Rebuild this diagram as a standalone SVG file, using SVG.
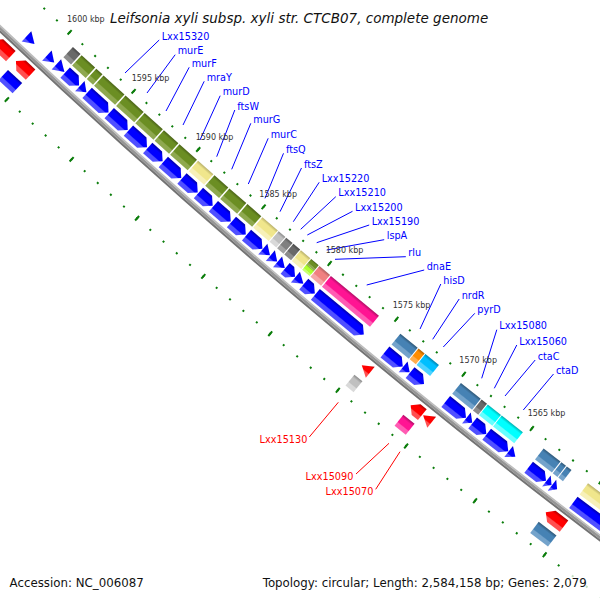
<svg xmlns="http://www.w3.org/2000/svg" width="600" height="600" viewBox="0 0 600 600">
<style>
text{font-family:"DejaVu Sans","Liberation Sans",sans-serif}
.lb{font-size:9.7px;fill:#0000ff}
.lr{font-size:9.7px;fill:#ff0000}
.tk{font-size:8px;fill:#333}
.ll{stroke:#0000ff;stroke-width:1;fill:none}
.lrl{stroke:#ff0000;stroke-width:1;fill:none}
.ab{fill:url(#gBlue)}
.ar{fill:url(#gRed)}
</style>
<defs>
<linearGradient id="gBlue"><stop offset="0" stop-color="#0000a8"/><stop offset=".22" stop-color="#0000ff"/><stop offset=".62" stop-color="#0000ff"/><stop offset=".7" stop-color="#5050ff"/><stop offset="1" stop-color="#5050ff"/></linearGradient>
<linearGradient id="gRed"><stop offset="0" stop-color="#b00000"/><stop offset=".22" stop-color="#ff0000"/><stop offset=".62" stop-color="#ff0000"/><stop offset=".7" stop-color="#ff5050"/><stop offset="1" stop-color="#ff5050"/></linearGradient>
<linearGradient id="gOlive"><stop offset="0" stop-color="#4b6418"/><stop offset=".22" stop-color="#6b8e23"/><stop offset=".62" stop-color="#6b8e23"/><stop offset=".7" stop-color="#8ea84f"/><stop offset="1" stop-color="#8ea84f"/></linearGradient>
<linearGradient id="gKhaki"><stop offset="0" stop-color="#b8b06a"/><stop offset=".22" stop-color="#f0e68c"/><stop offset=".62" stop-color="#f0e68c"/><stop offset=".7" stop-color="#f7f0b8"/><stop offset="1" stop-color="#f7f0b8"/></linearGradient>
<linearGradient id="gSilver"><stop offset="0" stop-color="#8c8c8c"/><stop offset=".22" stop-color="#c0c0c0"/><stop offset=".62" stop-color="#c0c0c0"/><stop offset=".7" stop-color="#d9d9d9"/><stop offset="1" stop-color="#d9d9d9"/></linearGradient>
<linearGradient id="gGray"><stop offset="0" stop-color="#595959"/><stop offset=".22" stop-color="#808080"/><stop offset=".62" stop-color="#808080"/><stop offset=".7" stop-color="#a3a3a3"/><stop offset="1" stop-color="#a3a3a3"/></linearGradient>
<linearGradient id="gDim"><stop offset="0" stop-color="#484848"/><stop offset=".22" stop-color="#696969"/><stop offset=".62" stop-color="#696969"/><stop offset=".7" stop-color="#8c8c8c"/><stop offset="1" stop-color="#8c8c8c"/></linearGradient>
<linearGradient id="gChart"><stop offset="0" stop-color="#79b320"/><stop offset=".22" stop-color="#adff2f"/><stop offset=".62" stop-color="#adff2f"/><stop offset=".7" stop-color="#c9ff70"/><stop offset="1" stop-color="#c9ff70"/></linearGradient>
<linearGradient id="gCoral"><stop offset="0" stop-color="#b05e5e"/><stop offset=".22" stop-color="#f08080"/><stop offset=".62" stop-color="#f08080"/><stop offset=".7" stop-color="#f5a6a6"/><stop offset="1" stop-color="#f5a6a6"/></linearGradient>
<linearGradient id="gPink"><stop offset="0" stop-color="#b30e67"/><stop offset=".22" stop-color="#ff1493"/><stop offset=".62" stop-color="#ff1493"/><stop offset=".7" stop-color="#ff5cb3"/><stop offset="1" stop-color="#ff5cb3"/></linearGradient>
<linearGradient id="gSteel"><stop offset="0" stop-color="#2f5878"/><stop offset=".22" stop-color="#4682b4"/><stop offset=".62" stop-color="#4682b4"/><stop offset=".7" stop-color="#74a3cb"/><stop offset="1" stop-color="#74a3cb"/></linearGradient>
<linearGradient id="gOrange"><stop offset="0" stop-color="#b36200"/><stop offset=".22" stop-color="#ff8c00"/><stop offset=".62" stop-color="#ff8c00"/><stop offset=".7" stop-color="#ffad4d"/><stop offset="1" stop-color="#ffad4d"/></linearGradient>
<linearGradient id="gSky"><stop offset="0" stop-color="#0086b3"/><stop offset=".22" stop-color="#00bfff"/><stop offset=".62" stop-color="#00bfff"/><stop offset=".7" stop-color="#4dd2ff"/><stop offset="1" stop-color="#4dd2ff"/></linearGradient>
<linearGradient id="gCyan"><stop offset="0" stop-color="#00b0b0"/><stop offset=".22" stop-color="#00ffff"/><stop offset=".62" stop-color="#00ffff"/><stop offset=".7" stop-color="#66ffff"/><stop offset="1" stop-color="#66ffff"/></linearGradient>
</defs>
<rect width="600" height="600" fill="#fff"/>
<g id="map" transform="translate(4952 -5198) rotate(130.25)">
  <g id="backbone" fill="none">
    <circle r="7197.75" stroke="#bdbdbd" stroke-width="1.5"/>
    <circle r="7199.75" stroke="#959595" stroke-width="2.5"/>
    <circle r="7202" stroke="#737373" stroke-width="2"/>
  </g>
  <g id="ticks" fill="none" stroke="#0b7d0b">
    <g transform="rotate(4.17233)">
      <path d="M7155 0A7155 7155 0 0 0 7078.996 -1040.116" stroke-width="2" stroke-dasharray="2 15.397" stroke-dashoffset="1"/>
      <path d="M7155 0A7155 7155 0 0 0 7078.996 -1040.116" stroke-width="6" stroke-dasharray="2 84.985" stroke-dashoffset="1"/>
      <path d="M7247 0A7247 7247 0 0 0 7170.019 -1053.489" stroke-width="2" stroke-dasharray="2 15.6207" stroke-dashoffset="1"/>
      <path d="M7247 0A7247 7247 0 0 0 7170.019 -1053.489" stroke-width="6" stroke-dasharray="2 86.1035" stroke-dashoffset="1"/>
    </g>
  </g>
  <g id="features">
    <g id="gA" transform="rotate(2.9205)"><polygon class="ab" points="7187.5,0 7194.5,11 7180.5,11"/></g>
    <g id="gB" transform="rotate(2.7056)"><polygon class="ab" points="7187.5,0 7194.5,10 7180.5,10"/></g>
    <g id="gC" transform="rotate(2.5942)"><polygon class="ab" points="7187.5,0 7194.5,11 7180.5,11"/><rect fill="url(#gDim)" x="7163.5" y="0.3" width="14" height="10.4"/></g>
    <g id="gD" transform="rotate(2.4351)"><polygon class="ab" points="7187.5,0 7194.5,7 7194.5,19 7180.5,19 7180.5,7"/><rect fill="url(#gOlive)" x="7163.5" y="0.3" width="14" height="18.4"/></g>
    <g id="gE" transform="rotate(2.3555)"><polygon class="ab" points="7187.5,0 7194.5,9 7180.5,9"/><rect fill="url(#gOlive)" x="7163.5" y="0.3" width="14" height="8.4"/></g>
    <g id="Lxx15320" transform="rotate(2.1167)"><polygon class="ab" points="7187.5,0 7194.5,7 7194.5,29 7180.5,29 7180.5,7"/><rect fill="url(#gOlive)" x="7163.5" y="0.3" width="14" height="28.4"/></g>
    <g id="murE" transform="rotate(1.9098)"><polygon class="ab" points="7187.5,0 7194.5,7 7194.5,25 7180.5,25 7180.5,7"/><rect fill="url(#gOlive)" x="7163.5" y="0.3" width="14" height="24.4"/></g>
    <g id="murF" transform="rotate(1.7029)"><polygon class="ab" points="7187.5,0 7194.5,7 7194.5,25 7180.5,25 7180.5,7"/><rect fill="url(#gOlive)" x="7163.5" y="0.3" width="14" height="24.4"/></g>
    <g id="mraY" transform="rotate(1.5358)"><polygon class="ab" points="7187.5,0 7194.5,7 7194.5,20 7180.5,20 7180.5,7"/><rect fill="url(#gOlive)" x="7163.5" y="0.3" width="14" height="19.4"/></g>
    <g id="murD" transform="rotate(1.3369)"><polygon class="ab" points="7187.5,0 7194.5,7 7194.5,24 7180.5,24 7180.5,7"/><rect fill="url(#gOlive)" x="7163.5" y="0.3" width="14" height="23.4"/></g>
    <g id="ftsW" transform="rotate(1.1618)"><polygon class="ab" points="7187.5,0 7194.5,7 7194.5,21 7180.5,21 7180.5,7"/><rect fill="url(#gKhaki)" x="7163.5" y="0.3" width="14" height="20.4"/></g>
    <g id="murG" transform="rotate(1.0027)"><polygon class="ab" points="7187.5,0 7194.5,7 7194.5,19 7180.5,19 7180.5,7"/><rect fill="url(#gOlive)" x="7163.5" y="0.3" width="14" height="18.4"/></g>
    <g id="murC" transform="rotate(0.8117)"><polygon class="ab" points="7187.5,0 7194.5,7 7194.5,23 7180.5,23 7180.5,7"/><rect fill="url(#gOlive)" x="7163.5" y="0.3" width="14" height="22.4"/></g>
    <g id="ftsQ" transform="rotate(0.6525)"><polygon class="ab" points="7187.5,0 7194.5,7 7194.5,19 7180.5,19 7180.5,7"/><rect fill="url(#gOlive)" x="7163.5" y="0.3" width="14" height="18.4"/></g>
    <g id="ftsZ" transform="rotate(0.4775)"><polygon class="ab" points="7187.5,0 7194.5,7 7194.5,21 7180.5,21 7180.5,7"/><rect fill="url(#gKhaki)" x="7163.5" y="0.3" width="14" height="20.4"/></g>
    <g id="Lxx15220" transform="rotate(0.3979)"><polygon class="ab" points="7187.5,0 7194.5,9.5 7180.5,9.5"/><rect fill="url(#gSilver)" x="7163.5" y="0.3" width="14" height="8.9"/></g>
    <g id="Lxx15210" transform="rotate(0.3223)"><polygon class="ab" points="7187.5,0 7194.5,9 7180.5,9"/><rect fill="url(#gGray)" x="7163.5" y="0.3" width="14" height="8.4"/></g>
    <g id="Lxx15200" transform="rotate(0.2427)"><polygon class="ab" points="7187.5,0 7194.5,9.5 7180.5,9.5"/><rect fill="url(#gDim)" x="7163.5" y="0.3" width="14" height="8.9"/></g>
    <g id="Lxx15190" transform="rotate(0.1353)"><polygon class="ab" points="7187.5,0 7194.5,7 7194.5,13 7180.5,13 7180.5,7"/><rect fill="url(#gKhaki)" x="7163.5" y="0.3" width="14" height="12.4"/></g>
    <g id="lspA" transform="rotate(0.0477)"><polygon class="ab" points="7187.5,0 7194.5,10.5 7180.5,10.5"/><rect fill="url(#gOlive)" x="7163.5" y="0.3" width="7" height="9.9"/><rect fill="url(#gChart)" x="7170.5" y="0.3" width="7" height="9.9"/></g>
    <g id="rlu" transform="rotate(-0.0716)"><polygon class="ab" points="7187.5,0 7194.5,7 7194.5,14.5 7180.5,14.5 7180.5,7"/><rect fill="url(#gCoral)" x="7163.5" y="0.3" width="14" height="13.9"/></g>
    <g id="dnaE" transform="rotate(-0.5809)"><polygon class="ab" points="7187.5,0 7194.5,7 7194.5,63 7180.5,63 7180.5,7"/><rect fill="url(#gPink)" x="7163.5" y="0.3" width="14" height="62.4"/></g>
    <g id="hisD" transform="rotate(-0.9828)"><polygon class="ab" points="7187.5,0 7194.5,7 7194.5,23 7180.5,23 7180.5,7"/><rect fill="url(#gSteel)" x="7163.5" y="0.3" width="14" height="22.4"/></g>
    <g id="nrdR" transform="rotate(-1.0544)"><polygon class="ab" points="7187.5,0 7194.5,8.5 7180.5,8.5"/><rect fill="url(#gOrange)" x="7163.5" y="0.3" width="14" height="7.9"/></g>
    <g id="pyrD" transform="rotate(-1.2016)"><polygon class="ab" points="7187.5,0 7194.5,7 7194.5,18 7180.5,18 7180.5,7"/><rect fill="url(#gSky)" x="7163.5" y="0.3" width="14" height="17.4"/></g>
    <g id="Lxx15080" transform="rotate(-1.6313)"><polygon class="ab" points="7187.5,0 7194.5,7 7194.5,26 7180.5,26 7180.5,7"/><rect fill="url(#gSteel)" x="7163.5" y="0.3" width="14" height="25.4"/></g>
    <g id="Lxx15060" transform="rotate(-1.6950)"><polygon class="ab" points="7187.5,0 7194.5,7.5 7180.5,7.5"/><rect fill="url(#gDim)" x="7163.5" y="0.3" width="14" height="6.9"/></g>
    <g id="ctaC" transform="rotate(-1.8382)"><polygon class="ab" points="7187.5,0 7194.5,7 7194.5,17.5 7180.5,17.5 7180.5,7"/><rect fill="url(#gCyan)" x="7163.5" y="0.3" width="14" height="16.9"/></g>
    <g id="ctaD" transform="rotate(-2.0610)"><polygon class="ab" points="7187.5,0 7194.5,7 7194.5,27.5 7180.5,27.5 7180.5,7"/><rect fill="url(#gCyan)" x="7163.5" y="0.3" width="14" height="26.9"/></g>
    <g id="gF" transform="rotate(-2.1327)"><polygon class="ab" points="7187.5,0 7194.5,8.5 7180.5,8.5"/></g>
    <g id="gG" transform="rotate(-2.4430)"><polygon class="ab" points="7187.5,0 7194.5,7 7194.5,22 7180.5,22 7180.5,7"/><rect fill="url(#gSteel)" x="7163.5" y="0.3" width="14" height="21.4"/></g>
    <g id="gH" transform="rotate(-2.4987)"><polygon class="ab" points="7187.5,0 7194.5,6.5 7180.5,6.5"/><rect fill="url(#gSteel)" x="7163.5" y="0.3" width="14" height="5.9"/></g>
    <g id="gI" transform="rotate(-2.5544)"><polygon class="ab" points="7187.5,0 7194.5,6.5 7180.5,6.5"/><rect fill="url(#gSteel)" x="7163.5" y="0.3" width="14" height="5.9"/></g>
    <g id="gJ" transform="rotate(-3.3422)"><polygon class="ab" points="7187.5,0 7194.5,7 7194.5,78 7180.5,78 7180.5,7"/><rect fill="url(#gKhaki)" x="7163.5" y="0.3" width="14" height="77.4"/></g>
    <g id="O1" transform="rotate(2.9921)"><polygon class="ar" points="7205.5,0 7219.5,0 7219.5,17 7212.5,24 7205.5,17"/></g>
    <g id="O2" transform="rotate(2.7772)"><polygon class="ar" points="7205.5,0 7219.5,0 7219.5,13 7212.5,20 7205.5,13"/><rect fill="url(#gBlue)" x="7224.5" y="0.3" width="14" height="19.4"/></g>
    <g id="Lxx15130" transform="rotate(-0.8117)"><polygon class="ar" points="7205.5,0 7219.5,0 7212.5,11"/><rect fill="url(#gSilver)" x="7224.5" y="0.3" width="14" height="10.4"/></g>
    <g id="Lxx15090" transform="rotate(-1.3449)"><polygon class="ar" points="7205.5,0 7219.5,0 7219.5,8 7212.5,15 7205.5,8"/><rect fill="url(#gPink)" x="7224.5" y="0.3" width="14" height="14.4"/></g>
    <g id="Lxx15070" transform="rotate(-1.4403)"><polygon class="ar" points="7205.5,0 7219.5,0 7212.5,11"/></g>
    <g id="O3" transform="rotate(-2.7772)"><polygon class="ar" points="7205.5,0 7219.5,0 7219.5,16 7212.5,23 7205.5,16"/><rect fill="url(#gSteel)" x="7224.5" y="0.3" width="14" height="22.4"/></g>
  </g>
</g>
<g id="label-lines">
  <g class="ll">
    <line x1="159.2" y1="40" x2="125" y2="73"/>
    <line x1="175.2" y1="54.7" x2="147" y2="93"/>
    <line x1="189.2" y1="67.3" x2="166" y2="111"/>
    <line x1="204.2" y1="81.3" x2="183" y2="125"/>
    <line x1="220.2" y1="95.7" x2="200" y2="140"/>
    <line x1="234.8" y1="110" x2="216.7" y2="156.7"/>
    <line x1="250.8" y1="123.3" x2="231.7" y2="169.3"/>
    <line x1="268.2" y1="138.3" x2="248.3" y2="184"/>
    <line x1="283.5" y1="153.3" x2="265" y2="198.3"/>
    <line x1="301.5" y1="168" x2="280" y2="211.7"/>
    <line x1="319.2" y1="182.3" x2="293.3" y2="221.7"/>
    <line x1="335.8" y1="196.7" x2="300.7" y2="229.3"/>
    <line x1="352.5" y1="211.3" x2="307.3" y2="235"/>
    <line x1="369.2" y1="225" x2="316.7" y2="242.7"/>
    <line x1="384.2" y1="239.7" x2="326.7" y2="250"/>
    <line x1="405.8" y1="256.7" x2="335" y2="259.3"/>
    <line x1="424.2" y1="270" x2="366.7" y2="285"/>
    <line x1="440.8" y1="284" x2="420" y2="329"/>
    <line x1="459.2" y1="299" x2="432.7" y2="339.3"/>
    <line x1="474.8" y1="313.3" x2="443.3" y2="347"/>
    <line x1="496.8" y1="329.7" x2="481.7" y2="378.3"/>
    <line x1="516.8" y1="345" x2="494.3" y2="388.3"/>
    <line x1="535.2" y1="360" x2="505" y2="396"/>
    <line x1="553.5" y1="374" x2="523.3" y2="410"/>
  </g>
  <g class="lrl">
    <line x1="309.3" y1="437" x2="338.3" y2="402.3"/>
    <line x1="356" y1="474" x2="389" y2="443.3"/>
    <line x1="375.7" y1="489.3" x2="400" y2="451.7"/>
  </g>
</g>
<g id="labels">
  <text class="lb" x="161.7" y="39.5">Lxx15320</text>
  <text class="lb" x="177.7" y="54.2">murE</text>
  <text class="lb" x="191.7" y="66.8">murF</text>
  <text class="lb" x="206.7" y="80.8">mraY</text>
  <text class="lb" x="222.7" y="95.2">murD</text>
  <text class="lb" x="237.3" y="109.5">ftsW</text>
  <text class="lb" x="253.3" y="122.8">murG</text>
  <text class="lb" x="270.7" y="137.8">murC</text>
  <text class="lb" x="286" y="152.8">ftsQ</text>
  <text class="lb" x="304" y="167.5">ftsZ</text>
  <text class="lb" x="321.7" y="181.8">Lxx15220</text>
  <text class="lb" x="338.3" y="196.2">Lxx15210</text>
  <text class="lb" x="355" y="210.8">Lxx15200</text>
  <text class="lb" x="371.7" y="224.5">Lxx15190</text>
  <text class="lb" x="386.7" y="239.2">lspA</text>
  <text class="lb" x="408.3" y="256.2">rlu</text>
  <text class="lb" x="426.7" y="269.5">dnaE</text>
  <text class="lb" x="443.3" y="283.5">hisD</text>
  <text class="lb" x="461.7" y="298.5">nrdR</text>
  <text class="lb" x="477.3" y="312.8">pyrD</text>
  <text class="lb" x="499.3" y="329.2">Lxx15080</text>
  <text class="lb" x="519.3" y="344.5">Lxx15060</text>
  <text class="lb" x="537.7" y="359.5">ctaC</text>
  <text class="lb" x="556" y="373.5">ctaD</text>
  <text class="lr" x="307.3" y="442.5" text-anchor="end">Lxx15130</text>
  <text class="lr" x="353.3" y="479.5" text-anchor="end">Lxx15090</text>
  <text class="lr" x="373.3" y="495.2" text-anchor="end">Lxx15070</text>
</g>
<g id="tick-labels">
  <text class="tk" x="67" y="22">1600 kbp</text>
  <text class="tk" x="131.7" y="81.3">1595 kbp</text>
  <text class="tk" x="195.7" y="139.7">1590 kbp</text>
  <text class="tk" x="259.3" y="197">1585 kbp</text>
  <text class="tk" x="325.7" y="253">1580 kbp</text>
  <text class="tk" x="392.7" y="308">1575 kbp</text>
  <text class="tk" x="459.3" y="363">1570 kbp</text>
  <text class="tk" x="527.7" y="416.3">1565 kbp</text>
</g>
<text id="title" x="110" y="23" font-size="13.5" font-style="italic" fill="#111">Leifsonia xyli subsp. xyli str. CTCB07, complete genome</text>
<g id="legend">
  <rect x="0" y="570" width="600" height="30" fill="#fff" fill-opacity="0.75"/>
  <text x="9.6" y="587" font-size="11.8" fill="#111">Accession: NC_006087</text>
  <text x="262.7" y="587" font-size="11.8" fill="#111">Topology: circular; Length: 2,584,158 bp; Genes: 2,079</text>
</g>
</svg>
